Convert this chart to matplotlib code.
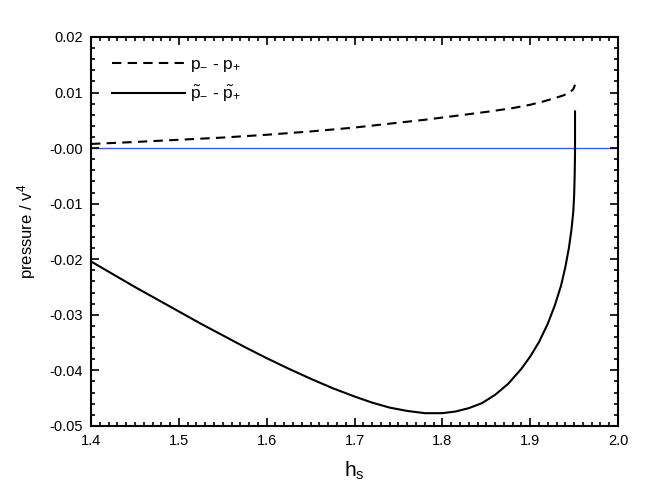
import matplotlib
matplotlib.use("Agg")
import matplotlib.pyplot as plt
from matplotlib.ticker import MultipleLocator, FormatStrFormatter

plt.rcParams['font.family'] = ['Liberation Sans', 'DejaVu Sans']
plt.rcParams['mathtext.fontset'] = 'custom'
plt.rcParams['mathtext.rm'] = 'Liberation Sans'
plt.rcParams['mathtext.it'] = 'Liberation Sans'
plt.rcParams['axes.unicode_minus'] = False

# p_- - p_+ (dashed)
hs_a = [1.400, 1.450, 1.500, 1.550, 1.600, 1.650, 1.700, 1.740, 1.780, 1.820, 1.854,
        1.880, 1.900, 1.915, 1.928, 1.938, 1.945, 1.949, 1.951]
p_a = [0.00075, 0.0011, 0.0015, 0.0019, 0.0024, 0.0030, 0.0037, 0.0044, 0.0051, 0.0059, 0.0066,
       0.0072, 0.0078, 0.0084, 0.0090, 0.0095, 0.0100, 0.0106, 0.0114]

# p~_- - p~_+ (solid)
hs_b = [1.400, 1.425, 1.450, 1.475, 1.500, 1.525, 1.550, 1.575, 1.600, 1.625,
        1.650, 1.675, 1.700, 1.720, 1.740, 1.760, 1.780, 1.800, 1.815, 1.830,
        1.845, 1.860, 1.875, 1.890, 1.900, 1.910, 1.920, 1.928, 1.935, 1.940,
        1.944, 1.947, 1.949, 1.950, 1.9506, 1.951, 1.951]
p_b = [-0.0204, -0.0227, -0.0250, -0.0272, -0.0294, -0.0316, -0.0337, -0.0358, -0.0378, -0.0397,
       -0.0415, -0.0432, -0.0447, -0.0458, -0.0467, -0.0473, -0.0477, -0.0477, -0.0474, -0.0468,
       -0.0459, -0.0444, -0.0424, -0.0397, -0.0375, -0.0349, -0.0316, -0.0283, -0.0248, -0.0214,
       -0.0180, -0.0146, -0.0115, -0.0085, -0.0050, -0.0010, 0.0066]

fig = plt.figure(figsize=(6.55, 4.93), dpi=100)
ax = fig.add_axes([0.139, 0.136, 0.8046, 0.789])

ax.axhline(0, color='#3a5cf0', lw=1.0, zorder=1)
ax.plot(hs_a, p_a, color='black', ls=(0, (4.5, 3)), lw=1.5, label=r'p$_{-}$ - p$_{+}$')
ax.plot(hs_b, p_b, color='black', ls='-', lw=1.5, label=r'$\tilde{\mathrm{p}}_{-}$ - $\tilde{\mathrm{p}}_{+}$')

ax.set_xlim(1.4, 2.0)
ax.set_ylim(-0.05, 0.02)
ax.xaxis.set_major_locator(MultipleLocator(0.1))
ax.xaxis.set_minor_locator(MultipleLocator(0.01))
ax.yaxis.set_major_locator(MultipleLocator(0.01))
ax.yaxis.set_minor_locator(MultipleLocator(0.002))
ax.xaxis.set_major_formatter(FormatStrFormatter('%.1f'))
ax.yaxis.set_major_formatter(FormatStrFormatter('%.2f'))
ax.tick_params(which='both', direction='in', top=True, right=True, labelsize=10.5, width=1.2)
ax.tick_params(which='major', length=6, pad=6)
ax.tick_params(which='minor', length=3)
for s in ax.spines.values():
    s.set_linewidth(1.5)

ax.set_xlabel(r'h$_{\mathrm{s}}$', fontsize=15, labelpad=8)
ax.set_ylabel(r'pressure / v$^{4}$', fontsize=12, labelpad=8)

ax.legend(loc='upper left', frameon=False, fontsize=12.5, handlelength=4.2,
          handletextpad=0.3, labelspacing=0.6, bbox_to_anchor=(0.01, 0.99))

fig.savefig('out.png', dpi=100)
